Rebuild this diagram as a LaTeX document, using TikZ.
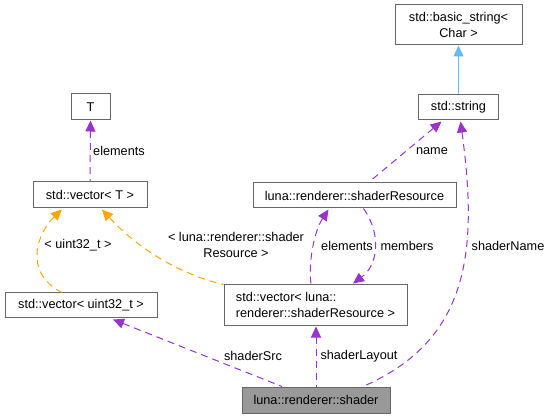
\documentclass[tikz,border=0pt]{standalone}
\usepackage{fontspec}
\setmainfont{Liberation Sans}
\usetikzlibrary{arrows.meta,calc}
\definecolor{edgepurple}{HTML}{9A32CD}
\definecolor{edgeorange}{HTML}{FFA500}
\definecolor{edgeblue}{HTML}{63B8FF}
\definecolor{boxgray}{HTML}{666666}
\definecolor{shfill}{HTML}{999999}
\begin{document}
\begin{tikzpicture}[x=1pt,y=-1pt,
  every node/.style={font=\fontsize{12.7}{15.5}\selectfont},
  cls/.style={draw=boxgray,line width=1pt,fill=white,inner sep=0pt,align=center},
  lbl/.style={inner sep=0pt,align=center},
  purp/.style={draw=edgepurple,line width=1pt,dash pattern=on 7pt off 5pt,{Triangle[length=11pt,width=10pt]}-},
  purpend/.style={draw=edgepurple,line width=1pt,dash pattern=on 7pt off 5pt,-{Triangle[length=11pt,width=10pt]}},
  oran/.style={draw=edgeorange,line width=1pt,dash pattern=on 7pt off 5pt,{Triangle[length=11pt,width=10pt]}-},
  blue/.style={draw=edgeblue,line width=1pt,{Triangle[length=11pt,width=10pt]}-}]
\useasboundingbox[fill=white] (0,0) rectangle (551,419);
% nodes
\node[cls,minimum width=127pt,minimum height=40pt] (bs) at (458.5,25) {std::basic\_string<\\Char >};
\node[cls,minimum width=80pt,minimum height=25pt] (str) at (458.5,107.5) {std::string};
\node[cls,minimum width=39pt,minimum height=26pt] (T) at (90.5,107) {T};
\node[cls,minimum width=114pt,minimum height=26pt] (vecT) at (90,195) {std::vector< T >};
\node[cls,minimum width=203pt,minimum height=25pt] (sr) at (354.5,195.5) {luna::renderer::shaderResource};
\node[cls,minimum width=183pt,minimum height=40pt,align=left] (vsr) at (315.5,305) {std::vector< luna::\\renderer::shaderResource >};
\node[cls,minimum width=152pt,minimum height=25pt] (vu) at (81,305.5) {std::vector< uint32\_t >};
\node[cls,fill=shfill,minimum width=148pt,minimum height=26pt] (sh) at (316,400) {luna::renderer::shader};
% edges
\draw[blue] (bs.south) -- (str.north);
\draw[purp] (T.south) -- (vecT.north);
\node[lbl,anchor=west] (lelT) at (93,151) {elements};
\draw[oran] ($(vecT.south)+(-28,1)$) .. controls (38,232) and (22,272) .. ($(vu.north)+(-19,0)$);
\node[lbl] (lu32) at (78,245) {< uint32\_t >};
\draw[oran] ($(vecT.south)+(12,1)$) .. controls (130,240) and (170,272) .. (vsr.north west);
\node[lbl] (lsrt) at (236,245) {< luna::renderer::shader\\Resource >};
\draw[purp] ($(str.south)+(-17,1)$) -- ($(sr.north)+(14,0)$);
\node[lbl] (lname) at (432,151) {name};
\draw[purp] ($(str.south)+(2,1)$) .. controls (478,250) and (470,340) .. ($(sh.north)+(47,0)$);
\node[lbl] (lsn) at (508,246) {shaderName};
\draw[purp] ($(sr.south)+(-26,1)$) .. controls (315,230) and (308,260) .. ($(vsr.north)+(-4.5,0)$);
\node[lbl] (lel2) at (347,246) {elements};
\draw[purpend] ($(sr.south)+(9,0)$) .. controls (382,235) and (378,265) .. ($(vsr.north)+(37.5,-1)$);
\node[lbl] (lmem) at (407,246) {members};
\draw[purp] ($(vsr.south)+(0.5,1)$) -- (sh.north);
\node[lbl] (lsl) at (359,356) {shaderLayout};
\draw[purp] ($(vu.south)+(32,1)$) -- ($(sh.north)+(-34,0)$);
\node[lbl] (lss) at (253,356) {shaderSrc};
\end{tikzpicture}
\end{document}
